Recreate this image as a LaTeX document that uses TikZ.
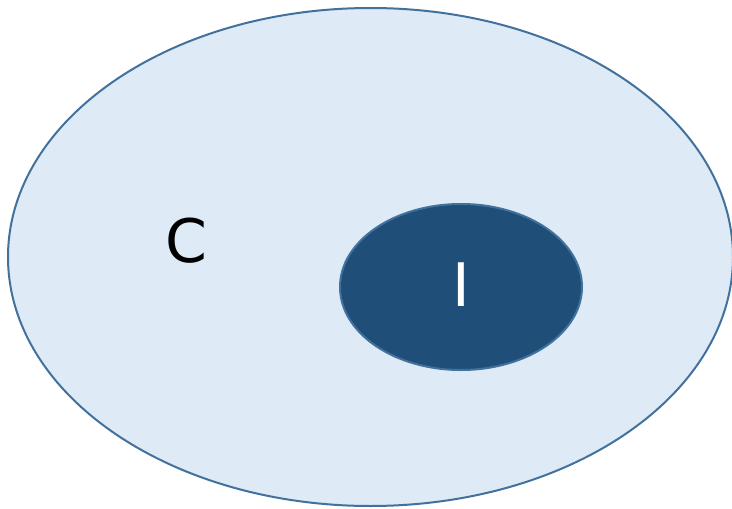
\documentclass[tikz,border=0pt]{standalone}
\usepackage{fontspec}
\setmainfont{DejaVu Sans}
\usetikzlibrary{shapes.geometric}
\definecolor{lightfill}{HTML}{DEEAF6}
\definecolor{edgeblue}{HTML}{41719C}
\definecolor{darkfill}{HTML}{1F4E79}
\tikzset{
  setbox/.style={ellipse, draw=edgeblue, line width=2pt, inner sep=0pt},
  setlabel/.style={font=\fontsize{60}{62}\selectfont, inner sep=0pt}
}
\begin{document}
\begin{tikzpicture}[x=1pt,y=-1pt]
\useasboundingbox (0,0) rectangle (732,509);
\node[setbox, fill=lightfill, minimum width=725pt, minimum height=498pt] (big) at (370.5,257) {};
\node[setbox, fill=darkfill, minimum width=242pt, minimum height=166pt] (small) at (461,287) {};
\node[setlabel, text=black] (c) at (186,241) {C};
\node[setlabel, text=white] (i) at (461,285) {I};
\end{tikzpicture}
\end{document}
